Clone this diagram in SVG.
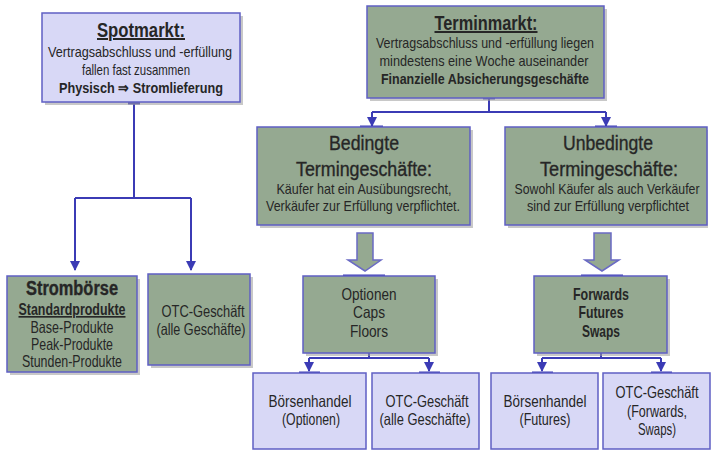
<svg xmlns="http://www.w3.org/2000/svg" width="711" height="450" viewBox="0 0 711 450">
<defs>
<style>
.blue{fill:#d8d8f6;stroke:#5f5fc4;stroke-width:1.5}
.green{fill:#95a991;stroke:#5f5fc4;stroke-width:1.5}
.sh{fill:#9a9a9a;opacity:0.55}
text{font-family:"Liberation Sans",Arial,sans-serif;fill:#262626;text-anchor:middle}
.t{font-size:20px;font-weight:bold;text-decoration:underline}
.h{font-size:20px;stroke:#262626;stroke-width:0.35}
.s{font-size:15px}
.m{font-size:16.5px}
.b{font-weight:bold}
.con{fill:none;stroke:#3b3bb5;stroke-width:2}
.tee{stroke:#3b3bb5;stroke-width:3}
.blk{fill:#95a991;stroke:#6a6ac4;stroke-width:1.5}
</style>
<marker id="ah" viewBox="0 0 10 10" refX="9" refY="5" markerWidth="5" markerHeight="5" orient="auto">
<path d="M0,0 L10,5 L0,10 z" fill="#3b3bb5"/>
</marker>
</defs>

<g id="connectors">
<path class="con" d="M134,102 V198 M75,198 H191 M75,198 V270" marker-end="url(#ah)"/>
<path class="con" d="M191,198 V270" marker-end="url(#ah)"/>
<line class="tee" x1="128" y1="103" x2="140" y2="103"/>
<path class="con" d="M489,98 V112 M372,112 H606 M372,112 V126" marker-end="url(#ah)"/>
<path class="con" d="M606,112 V126" marker-end="url(#ah)"/>
<line class="tee" x1="483" y1="98" x2="495" y2="98"/>
<line class="tee" x1="360" y1="127" x2="383" y2="127"/>
<line class="tee" x1="595" y1="127" x2="617" y2="127"/>
<path class="blk" d="M357,233 H373 V260 H381 L365,271 L348,260 H357 Z"/>
<path class="blk" d="M594,233 H611 V260 H619 L602,271 L585,260 H594 Z"/>
<line class="tee" x1="343" y1="276" x2="385" y2="276"/>
<line class="tee" x1="581" y1="276" x2="623" y2="276"/>
<path class="con" d="M369,353 V358 M309,358 H429 M309,358 V371" marker-end="url(#ah)"/>
<path class="con" d="M429,358 V371" marker-end="url(#ah)"/>
<line class="tee" x1="299" y1="373" x2="320" y2="373"/>
<line class="tee" x1="419" y1="373" x2="440" y2="373"/>
<path class="con" d="M601,353 V358 M542,358 H661 M542,358 V371" marker-end="url(#ah)"/>
<path class="con" d="M661,358 V371" marker-end="url(#ah)"/>
<line class="tee" x1="532" y1="373" x2="553" y2="373"/>
<line class="tee" x1="651" y1="373" x2="672" y2="373"/>
</g>

<g id="spotmarkt">
<rect class="sh" x="45" y="16" width="198" height="89"/>
<rect class="blue" x="42" y="13" width="198" height="89"/>
<text class="t" x="141" y="37" textLength="88" lengthAdjust="spacingAndGlyphs">Spotmarkt:</text>
<text class="s" x="140" y="57" textLength="184" lengthAdjust="spacingAndGlyphs">Vertragsabschluss und -erfüllung</text>
<text class="s" x="136" y="75" textLength="108" lengthAdjust="spacingAndGlyphs">fallen fast zusammen</text>
<text class="s b" x="141" y="93" textLength="164" lengthAdjust="spacingAndGlyphs">Physisch  ⇒ Stromlieferung</text>
</g>

<g id="terminmarkt">
<rect class="sh" x="370" y="9" width="237" height="92"/>
<rect class="green" x="367" y="6" width="237" height="92"/>
<text class="t" x="486" y="30" textLength="103" lengthAdjust="spacingAndGlyphs">Terminmarkt:</text>
<text class="s" x="485" y="48" textLength="218" lengthAdjust="spacingAndGlyphs">Vertragsabschluss und -erfüllung liegen</text>
<text class="s" x="484" y="66" textLength="209" lengthAdjust="spacingAndGlyphs">mindestens eine Woche auseinander</text>
<text class="s b" x="485" y="84" textLength="208" lengthAdjust="spacingAndGlyphs">Finanzielle Absicherungsgeschäfte</text>
</g>

<g id="bedingte">
<rect class="sh" x="260" y="130" width="213" height="98"/>
<rect class="green" x="257" y="127" width="213" height="98"/>
<text class="h" x="364" y="150" textLength="70" lengthAdjust="spacingAndGlyphs">Bedingte</text>
<text class="h" x="364" y="176" textLength="136" lengthAdjust="spacingAndGlyphs">Termingeschäfte:</text>
<text class="s" x="364" y="194" textLength="175" lengthAdjust="spacingAndGlyphs">Käufer hat ein Ausübungsrecht,</text>
<text class="s" x="363" y="211" textLength="194" lengthAdjust="spacingAndGlyphs">Verkäufer zur Erfüllung verpflichtet.</text>
</g>

<g id="unbedingte">
<rect class="sh" x="508" y="130" width="200" height="98"/>
<rect class="green" x="505" y="127" width="202" height="98"/>
<text class="h" x="608" y="150" textLength="90" lengthAdjust="spacingAndGlyphs">Unbedingte</text>
<text class="h" x="609" y="176" textLength="138" lengthAdjust="spacingAndGlyphs">Termingeschäfte:</text>
<text class="s" x="607" y="194" textLength="185" lengthAdjust="spacingAndGlyphs">Sowohl Käufer als auch Verkäufer</text>
<text class="s" x="608" y="211" textLength="162" lengthAdjust="spacingAndGlyphs">sind zur Erfüllung verpflichtet</text>
</g>

<g id="optionen">
<rect class="sh" x="306" y="279" width="132" height="77"/>
<rect class="green" x="303" y="276" width="132" height="77"/>
<text class="m" x="369" y="300" textLength="55" lengthAdjust="spacingAndGlyphs">Optionen</text>
<text class="m" x="369" y="318" textLength="32" lengthAdjust="spacingAndGlyphs">Caps</text>
<text class="m" x="369" y="337" textLength="38" lengthAdjust="spacingAndGlyphs">Floors</text>
</g>

<g id="forwards">
<rect class="sh" x="537" y="279" width="133" height="77"/>
<rect class="green" x="534" y="276" width="133" height="77"/>
<text class="m b" x="601" y="300" textLength="56" lengthAdjust="spacingAndGlyphs">Forwards</text>
<text class="m b" x="601" y="318" textLength="45" lengthAdjust="spacingAndGlyphs">Futures</text>
<text class="m b" x="601" y="337" textLength="38" lengthAdjust="spacingAndGlyphs">Swaps</text>
</g>

<g id="stromboerse">
<rect class="sh" x="10" y="279" width="130" height="96"/>
<rect class="green" x="7" y="276" width="130" height="96"/>
<text class="h b" x="72" y="295" textLength="92" lengthAdjust="spacingAndGlyphs">Strombörse</text>
<text class="m b" x="72" y="315" textLength="107" lengthAdjust="spacingAndGlyphs" style="text-decoration:underline">Standardprodukte</text>
<text class="m" x="72" y="333" textLength="83" lengthAdjust="spacingAndGlyphs">Base-Produkte</text>
<text class="m" x="72" y="350" textLength="82" lengthAdjust="spacingAndGlyphs">Peak-Produkte</text>
<text class="m" x="72" y="367" textLength="100" lengthAdjust="spacingAndGlyphs">Stunden-Produkte</text>
</g>

<g id="otc-spot">
<rect class="sh" x="151" y="277" width="102" height="91"/>
<rect class="green" x="148" y="274" width="102" height="91"/>
<text class="m" x="203" y="317" textLength="83" lengthAdjust="spacingAndGlyphs">OTC-Geschäft</text>
<text class="m" x="201" y="335" textLength="89" lengthAdjust="spacingAndGlyphs">(alle Geschäfte)</text>
</g>

<g id="boersen-optionen">
<rect class="blue" x="253" y="373" width="113" height="76"/>
<text class="m" x="310" y="407" textLength="83" lengthAdjust="spacingAndGlyphs">Börsenhandel</text>
<text class="m" x="311" y="425" textLength="58" lengthAdjust="spacingAndGlyphs">(Optionen)</text>
</g>

<g id="otc-optionen">
<rect class="blue" x="372" y="373" width="107" height="76"/>
<text class="m" x="427" y="407" textLength="83" lengthAdjust="spacingAndGlyphs">OTC-Geschäft</text>
<text class="m" x="425" y="425" textLength="91" lengthAdjust="spacingAndGlyphs">(alle Geschäfte)</text>
</g>

<g id="boersen-futures">
<rect class="blue" x="491" y="373" width="107" height="76"/>
<text class="m" x="545" y="407" textLength="83" lengthAdjust="spacingAndGlyphs">Börsenhandel</text>
<text class="m" x="545" y="425" textLength="51" lengthAdjust="spacingAndGlyphs">(Futures)</text>
</g>

<g id="otc-forwards">
<rect class="blue" x="603" y="373" width="107" height="76"/>
<text class="m" x="657" y="398" textLength="83" lengthAdjust="spacingAndGlyphs">OTC-Geschäft</text>
<text class="m" x="657" y="417" textLength="60" lengthAdjust="spacingAndGlyphs">(Forwards,</text>
<text class="m" x="657" y="435" textLength="38" lengthAdjust="spacingAndGlyphs">Swaps)</text>
</g>
</svg>
